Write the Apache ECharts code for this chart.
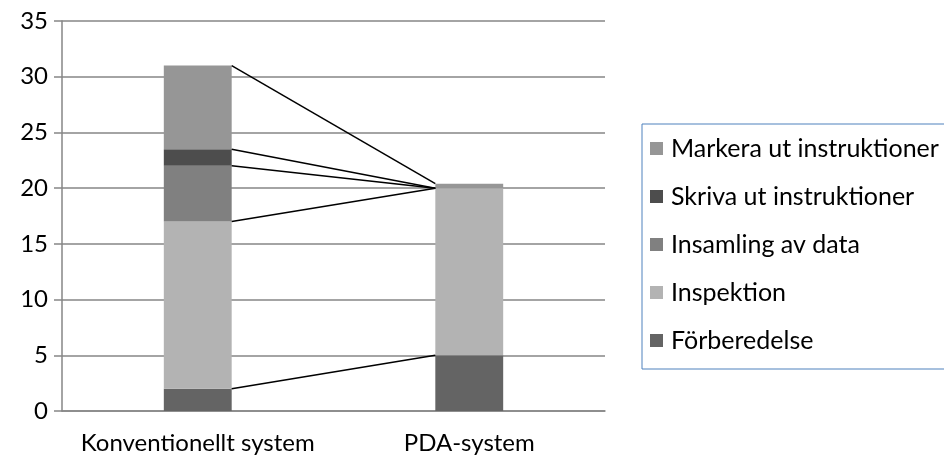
<!DOCTYPE html>
<html>
<head>
    <meta charset="UTF-8">
    <title>Tidsåtgång</title>
    <script src="https://cdn.jsdelivr.net/npm/echarts@6/dist/echarts.min.js"></script>
    <style>
        html, body { margin: 0; padding: 0; background: #fff; }
        #main { width: 944px; height: 466px; }
    </style>
</head>
<body>
<div id="main"></div>
<script type="text/javascript">
    // kategorier
    var categories = ['Konventionellt system', 'PDA-system'];

    // serier, nerifrån och upp
    var forberedelse = [2, 5];
    var inspektion = [15, 15];
    var insamling = [5, 0];
    var skrivaUt = [1.5, 0];
    var markeraUt = [7.5, 0.4];

    var yTicks = [0, 5, 10, 15, 20, 25, 30, 35];

    var seriesNames = ['Förberedelse', 'Inspektion', 'Insamling av data', 'Skriva ut instruktioner', 'Markera ut instruktioner'];
    var seriesData = [forberedelse, inspektion, insamling, skrivaUt, markeraUt];
    var colors = ['#646464', '#b3b3b3', '#808080', '#4d4d4d', '#969696'];

    var fontName = 'Lato';
    var barPct = 0.25;

    var myChart = echarts.init(document.getElementById('main'));

    // serielinjer mellan staplarnas toppar (som i Excel)
    var lineData = [];
    var cum = [0, 0];
    for (var s = 0; s < seriesData.length; s++) {
        cum[0] += seriesData[s][0];
        cum[1] += seriesData[s][1];
        lineData.push([0, cum[0], 1, cum[1]]);
    }

    var series = seriesData.map(function (d, i) {
        return {
            name: seriesNames[i],
            type: 'bar',
            stack: 'total',
            barWidth: (barPct * 100) + '%',
            itemStyle: { color: colors[i] },
            data: d
        };
    });

    series.push({
        type: 'custom',
        name: 'serielinjer',
        silent: true,
        encode: { x: 0, y: 1 },
        data: lineData,
        z: 5,
        renderItem: function (params, api) {
            var half = api.size([1, 0])[0] * barPct / 2;
            var p1 = api.coord([api.value(0), api.value(1)]);
            var p2 = api.coord([api.value(2), api.value(3)]);
            return {
                type: 'line',
                shape: { x1: p1[0] + half, y1: p1[1], x2: p2[0] - half, y2: p2[1] },
                style: { stroke: '#000', lineWidth: 1.5 }
            };
        }
    });

    var option = {
        animation: false,
        textStyle: { fontFamily: fontName },
        grid: { left: 62, right: 339, top: 21, bottom: 55 },
        legend: {
            orient: 'vertical',
            left: 642,
            top: 124,
            padding: [12, 30, 16, 8],
            itemGap: 23,
            itemWidth: 13,
            itemHeight: 13,
            icon: 'rect',
            borderColor: '#4f81bd',
            borderWidth: 1,
            data: seriesNames.slice().reverse(),
            textStyle: { fontFamily: fontName, fontSize: 25, color: '#000', padding: [0, 0, 0, 3] }
        },
        xAxis: {
            type: 'category',
            data: categories,
            axisLine: { lineStyle: { color: '#868686', width: 1.5 } },
            axisTick: { show: false },
            axisLabel: { fontSize: 24, color: '#000', margin: 20, interval: 0 }
        },
        yAxis: {
            type: 'value',
            min: yTicks[0],
            max: yTicks[yTicks.length - 1],
            interval: 5,
            axisLine: { show: true, lineStyle: { color: '#868686', width: 1.5 } },
            axisTick: { show: true, length: 8, lineStyle: { color: '#868686', width: 1.5 } },
            splitLine: { lineStyle: { color: '#868686', width: 1.5 } },
            axisLabel: { fontSize: 24, color: '#000', margin: 14 }
        },
        series: series
    };

    myChart.setOption(option);
</script>
</body>
</html>
